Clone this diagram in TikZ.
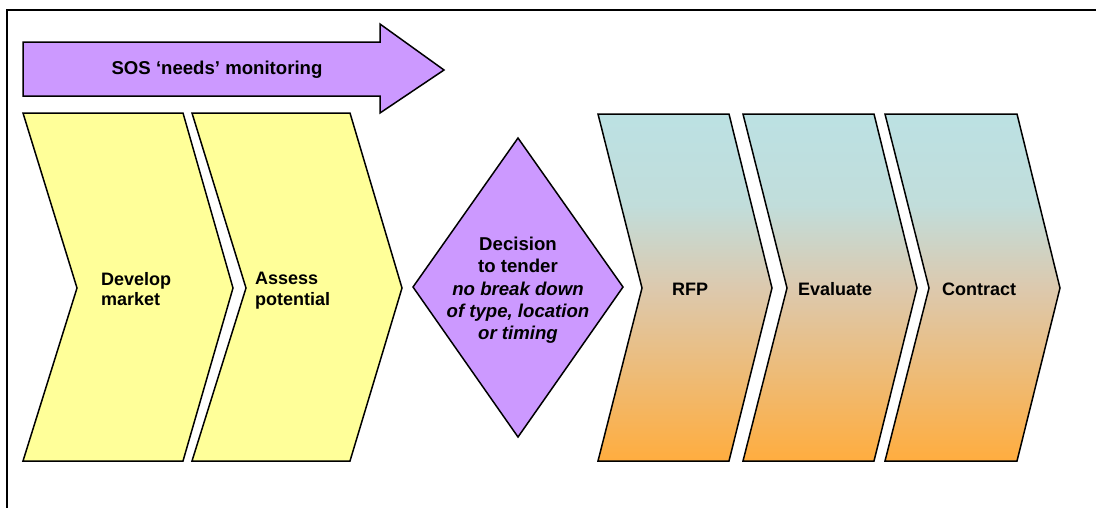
\documentclass[tikz,border=0pt]{standalone}
\usepackage{fontspec}
\setmainfont{Liberation Sans}
\definecolor{stepyellow}{HTML}{FFFF99}
\definecolor{lilac}{HTML}{CC99FF}
\definecolor{seablue}{HTML}{BCE1E3}
\definecolor{sandtan}{HTML}{DCC9AE}
\definecolor{amber}{HTML}{FFAD3F}
% vertical fade used by the three right-hand steps
\pgfdeclareverticalshading{tenderfade}{100bp}{%
  color(0bp)=(amber); color(25bp)=(amber); color(50bp)=(sandtan);
  color(62bp)=(seablue!85!sandtan); color(75bp)=(seablue); color(100bp)=(seablue)}
\tikzset{
  outline/.style={draw=black, line width=1.5pt, line join=miter},
  chevronA/.style={outline, fill=stepyellow},
  chevronB/.style={outline, shading=tenderfade},
  lilacshape/.style={outline, fill=lilac},
  label/.style={inner sep=0pt, font=\fontsize{18}{20.5}\selectfont\bfseries},
  biglabel/.style={inner sep=0pt, font=\fontsize{18.6}{22.2}\selectfont\bfseries},
}
\begin{document}
\begin{tikzpicture}[x=1pt, y=-1pt]
\useasboundingbox (0,0) rectangle (1096,507);
\fill[white] (0,0) rectangle (1096,507);
% frame
\draw[line width=2pt] (7,520) -- (7,10) -- (1110,10);

% monitoring arrow
\draw[lilacshape] (23,42) -- (380,42) -- (380,24) -- (444,70) -- (380,113) -- (380,96) -- (23,96) -- cycle;
\node[biglabel] (sos) at (217,70) {SOS ‘needs’ monitoring};

% yellow steps
\draw[chevronA] (23,113) -- (183,113) -- (233,288) -- (183,461) -- (23,461) -- (77,288) -- cycle;
\draw[chevronA] (192,113) -- (350,113) -- (402,288) -- (350,461) -- (192,461) -- (246,288) -- cycle;
\node[label, align=left, anchor=north west] (develop) at (101,272) {Develop\\market};
\node[label, align=left, anchor=north west] (assess) at (255,272) {Assess\\potential};

% decision
\draw[lilacshape] (518,138) -- (623,287) -- (518,437) -- (413,287) -- cycle;
\node[biglabel, align=center, anchor=north] (decision) at (518,237)
  {Decision\\to tender\\\textit{no break down}\\\textit{of type, location}\\\textit{or timing}};

% tender steps
\draw[chevronB] (598,114) -- (729,114) -- (772,288) -- (729,461) -- (598,461) -- (642,288) -- cycle;
\draw[chevronB] (743,114) -- (874,114) -- (917,288) -- (874,461) -- (743,461) -- (787,288) -- cycle;
\draw[chevronB] (885,114) -- (1017,114) -- (1060,288) -- (1017,461) -- (885,461) -- (929,288) -- cycle;
\node[label, anchor=base west] (rfp) at (672,295) {RFP};
\node[label, anchor=base west] (evaluate) at (798,295) {Evaluate};
\node[label, anchor=base west] (contract) at (942,295) {Contract};
\end{tikzpicture}
\end{document}
